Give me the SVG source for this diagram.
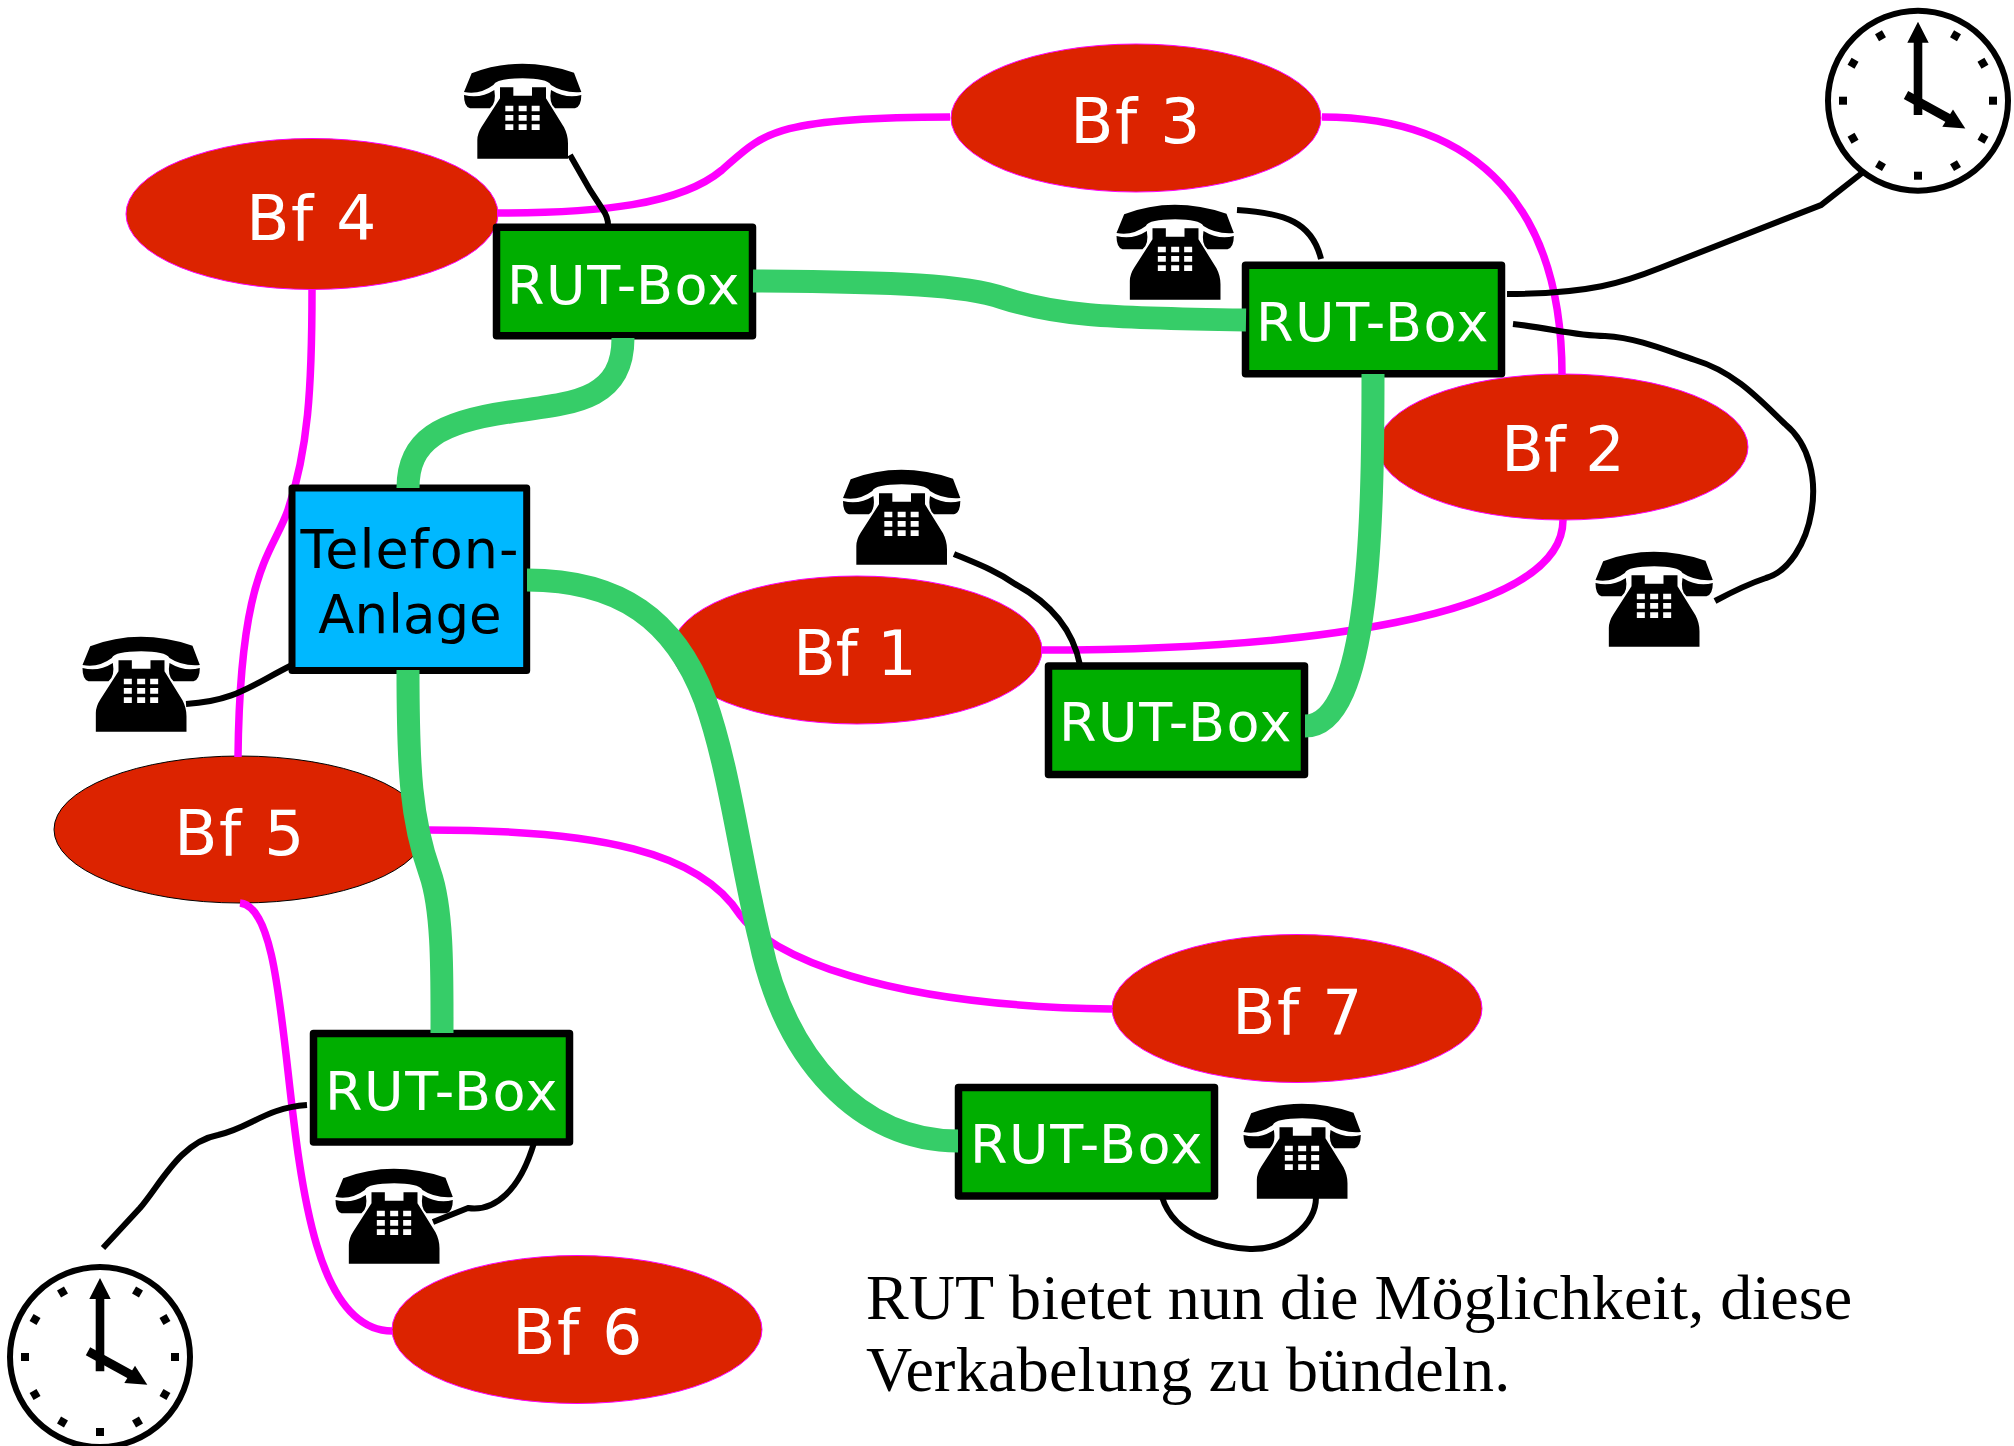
<svg xmlns="http://www.w3.org/2000/svg" width="2014" height="1446" viewBox="0 0 2014 1446">
<style>
.bf{fill:#dc2300;stroke:#f0f;stroke-width:1}
.t{font-family:"DejaVu Sans",sans-serif;text-anchor:middle}
.bft{fill:#fff;font-size:63px;letter-spacing:1.5px}
.bfn{fill:#fff;font-size:62px}
.rut{fill:#00ae00;stroke:#000;stroke-width:7.5;stroke-linejoin:round}
.rutt{fill:#fff;font-size:54px;letter-spacing:1.6px}
.mag{fill:none;stroke:#f0f;stroke-width:7.5}
.grn{fill:none;stroke:#36cd68;stroke-width:23}
.blk{fill:none;stroke:#000;stroke-width:6}
.cap{font-family:"Liberation Serif",serif;font-size:64px;fill:#000}
</style>
<defs>
<g id="phone" transform="scale(.3333) translate(-72 -72)">
<path d="M95 100Q240 44 402 98L424 156Q370 160 333 135Q320 115 248 115Q170 115 160 135Q120 165 72 156Z"/>
<path d="M72 165Q120 178 163 150Q170 190 150 205L90 205Q72 200 72 165Z"/>
<path d="M424 165Q380 178 333 150Q326 190 345 205L405 205Q424 200 424 165Z"/>
<path d="M180 142H220V167H276V142H318V175L372 262Q384 285 384 310V356H112V300Q112 280 125 260L180 175Z"/>
<path fill="#fff" d="M196 197h24v17h-24zM236 197h24v17h-24zM275 197h24v17h-24zM196 225h24v17h-24zM236 225h24v17h-24zM275 225h24v17h-24zM196 253h24v17h-24zM236 253h24v17h-24zM275 253h24v17h-24z"/>
</g>
<g id="clock">
<circle r="90" fill="#fff" stroke="#000" stroke-width="6"/>
<rect x="-4" y="-79" width="8" height="8" transform="rotate(30)"/>
<rect x="-4" y="-79" width="8" height="8" transform="rotate(60)"/>
<rect x="-4" y="-79" width="8" height="8" transform="rotate(90)"/>
<rect x="-4" y="-79" width="8" height="8" transform="rotate(120)"/>
<rect x="-4" y="-79" width="8" height="8" transform="rotate(150)"/>
<rect x="-4" y="-79" width="8" height="8" transform="rotate(180)"/>
<rect x="-4" y="-79" width="8" height="8" transform="rotate(210)"/>
<rect x="-4" y="-79" width="8" height="8" transform="rotate(240)"/>
<rect x="-4" y="-79" width="8" height="8" transform="rotate(270)"/>
<rect x="-4" y="-79" width="8" height="8" transform="rotate(300)"/>
<rect x="-4" y="-79" width="8" height="8" transform="rotate(330)"/>
<path d="M-4.3 14.3V-58H-10.7L0 -79L10.7 -58H4.3V14.3Z"/>
<path d="M-12 -5.7L33 19" stroke="#000" stroke-width="9"/>
<path d="M47.3 27.7L35 8.7L24.3 26Z"/>
</g>
</defs>
<g id="bf4"><ellipse class="bf" cx="312" cy="214" rx="186" ry="75.5"/><text class="t bft" x="312" y="240">Bf 4</text></g>
<g id="bf3"><ellipse class="bf" cx="1136" cy="118" rx="185" ry="74"/><text class="t bft" x="1136" y="143">Bf 3</text></g>
<g id="bf2"><ellipse class="bf" cx="1563" cy="447" rx="185" ry="73"/><text class="t bfn" x="1563" y="471">Bf 2</text></g>
<g id="bf1"><ellipse class="bf" cx="857" cy="650" rx="185" ry="74"/><text class="t bfn" x="855" y="675">Bf 1</text></g>
<g id="bf5"><ellipse fill="#dc2300" stroke="#000" stroke-width="1" cx="240" cy="829.5" rx="186" ry="73.5"/><text class="t bft" x="240" y="855">Bf 5</text></g>
<g id="bf7"><ellipse class="bf" cx="1297" cy="1008.5" rx="185" ry="74"/><text class="t bft" x="1298" y="1034">Bf 7</text></g>
<g id="bf6"><ellipse class="bf" cx="577" cy="1329.5" rx="185" ry="74"/><text class="t bft" x="578" y="1354">Bf 6</text></g>
<g id="connector-behind"><path class="mag" d="M312 289C312 390 308 450 288 510C272 555 240 570 238 757"/></g>
<g id="telefon"><rect x="292" y="488" width="234.7" height="182.4" fill="#00b8ff" stroke="#000" stroke-width="7" stroke-linejoin="round"/><text class="t" font-size="54" letter-spacing="1" x="410" y="568">Telefon-</text><text class="t" font-size="53" x="410" y="633">Anlage</text></g>
<g id="rut1"><rect class="rut" x="496.5" y="227.3" width="256" height="108.5"/><text class="t rutt" x="624" y="304">RUT-Box</text></g>
<g id="rut2"><rect class="rut" x="1245.5" y="265.3" width="256" height="108.5"/><text class="t rutt" x="1373" y="341">RUT-Box</text></g>
<g id="rut3"><rect class="rut" x="1048.5" y="666" width="256" height="108.5"/><text class="t rutt" x="1176" y="741">RUT-Box</text></g>
<g id="rut4"><rect class="rut" x="313.5" y="1033.5" width="256" height="108.5"/><text class="t rutt" x="442" y="1110">RUT-Box</text></g>
<g id="rut5"><rect class="rut" x="958.5" y="1087.5" width="256" height="108.5"/><text class="t rutt" x="1087" y="1163">RUT-Box</text></g>
<g id="connectors">
<path class="mag" d="M497 213C600 213 680 205 722 170C762 135 770 117 950 117"/>
<path class="mag" d="M1322 117C1480 117 1562 210 1562 375"/>
<path class="mag" d="M1041 650C1290 650 1563 620 1563 520"/>
<path class="mag" d="M428 830C600 830 700 852 740 915C770 955 880 1006 1112 1009"/>
<path class="mag" d="M240 903C310 910 262 1330 392 1331"/>
<path class="grn" d="M753 281C900 282 965 285 1003 298C1055 315 1100 318 1246 320"/>
<path class="grn" d="M623 338C623 400 575 403 510 412C440 422 408 440 408 488"/>
<path class="grn" d="M1373 374C1373 520 1370 726 1305 726"/>
<path class="grn" d="M527 580C620 580 675 620 705 700C730 770 740 860 760 940C785 1060 860 1141 958 1141"/>
<path class="grn" d="M408 670C408 770 411 820 430 873C443 910 442 975 442 1033"/>
<path class="blk" d="M570 155L590 190L603 210Q608 217 608 225"/>
<path class="blk" d="M1237 210C1285 213 1312 222 1321 259"/>
<path class="blk" d="M1507 294C1590 294 1625 282 1660 268L1821 205L1862 173"/>
<path class="blk" d="M1513 324C1550 328 1575 336 1605 336C1640 338 1670 352 1695 360C1735 372 1760 400 1785 424C1835 465 1812 565 1766 578C1745 585 1730 593 1715 601"/>
<path class="blk" d="M954 554C975 563 995 570 1015 584C1045 600 1072 625 1080 665"/>
<path class="blk" d="M292 665C250 686 235 701 186 704"/>
<path class="blk" d="M307 1105C265 1108 250 1128 218 1135C180 1142 160 1185 140 1208L103 1248"/>
<path class="blk" d="M534 1143C520 1190 495 1212 468 1208L433 1222"/>
<path class="blk" d="M1162 1197C1175 1240 1230 1248 1250 1249C1285 1250 1316 1225 1316 1197"/>
</g>
<g id="phones">
<use id="phone1" href="#phone" transform="translate(464 64)"/>
<use id="phone2" href="#phone" transform="translate(1116.500 205)"/>
<use id="phone3" href="#phone" transform="translate(843 470)"/>
<use id="phone4" href="#phone" transform="translate(1595.500 552)"/>
<use id="phone5" href="#phone" transform="translate(82.500 637)"/>
<use id="phone6" href="#phone" transform="translate(335.500 1169)"/>
<use id="phone7" href="#phone" transform="translate(1243.500 1104)"/>
</g>
<use id="clock1" href="#clock" transform="translate(1918 100.7)"/>
<use id="clock2" href="#clock" transform="translate(100 1357)"/>
<g id="caption" class="cap"><text x="866" y="1319" letter-spacing=".07">RUT bietet nun die Möglichkeit, diese</text><text x="866" y="1391" letter-spacing=".28">Verkabelung zu bündeln.</text></g>
</svg>
